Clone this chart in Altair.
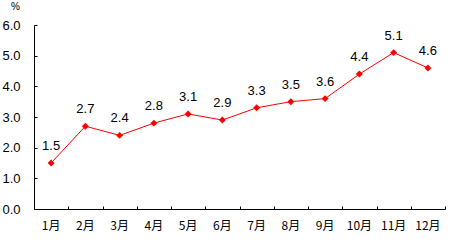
import altair as alt
import pandas as pd

months = ["1月", "2月", "3月", "4月", "5月", "6月", "7月", "8月", "9月", "10月", "11月", "12月"]
values = [1.5, 2.7, 2.4, 2.8, 3.1, 2.9, 3.3, 3.5, 3.6, 4.4, 5.1, 4.6]
y_ticks = [0, 1, 2, 3, 4, 5, 6]

df = pd.DataFrame({"month": months, "value": values})

W, H = 411, 184
FONT = "Liberation Sans"

xscale = alt.Scale(type="band", paddingInner=0, paddingOuter=0)
yscale = alt.Scale(domain=[0, 6], nice=False)

line = alt.Chart(df).mark_line(
    color="#ff0000", strokeWidth=1,
    point=alt.OverlayMarkDef(shape="diamond", filled=True, color="#ff0000", size=48, opacity=1),
).encode(
    x=alt.X("month:N", sort=months, scale=xscale, title=None,
            axis=alt.Axis(orient="bottom", labelAngle=0, tickSize=0, domainColor="black",
                          domainWidth=1, labelColor="black", labelFont="Noto Sans CJK SC",
                          labelFontSize=12, labelPadding=11, grid=False)),
    y=alt.Y("value:Q", scale=yscale, title="%",
            axis=alt.Axis(orient="left", values=y_ticks, format=".1f", tickSize=0,
                          domainColor="black", domainWidth=1, labelColor="black",
                          labelFont=FONT, labelFontSize=13, labelPadding=14, grid=False,
                          titleAngle=0, titleX=-19, titleY=-19, titleAlign="center",
                          titleBaseline="middle", titleFont=FONT, titleFontSize=10,
                          titleFontWeight="normal", titleColor="black")),
)

labels = alt.Chart(df).mark_text(
    dy=-17, font=FONT, fontSize=13, color="black", baseline="middle", align="center"
).encode(
    x=alt.X("month:N", sort=months, scale=xscale, title=None,
            axis=alt.Axis(orient="top", labels=False, domain=False, ticks=True, tickSize=3,
                          tickColor="black", tickBand="extent", offset=-H, grid=False)),
    y=alt.Y("value:Q", scale=yscale, title=None,
            axis=alt.Axis(orient="right", labels=False, domain=False, ticks=True, tickSize=3,
                          tickColor="black", values=y_ticks, offset=-W, grid=False)),
    text=alt.Text("value:Q", format=".1f"),
)

chart = alt.layer(line, labels).resolve_axis(x="independent", y="independent").properties(
    width=W, height=H,
    autosize=alt.AutoSizeParams(type="none"),
    padding={"left": 34, "top": 25, "right": 16, "bottom": 33},
    background="white",
).configure_view(stroke=None)

chart.save("out.html", embed_options={"renderer": "svg", "actions": False})
